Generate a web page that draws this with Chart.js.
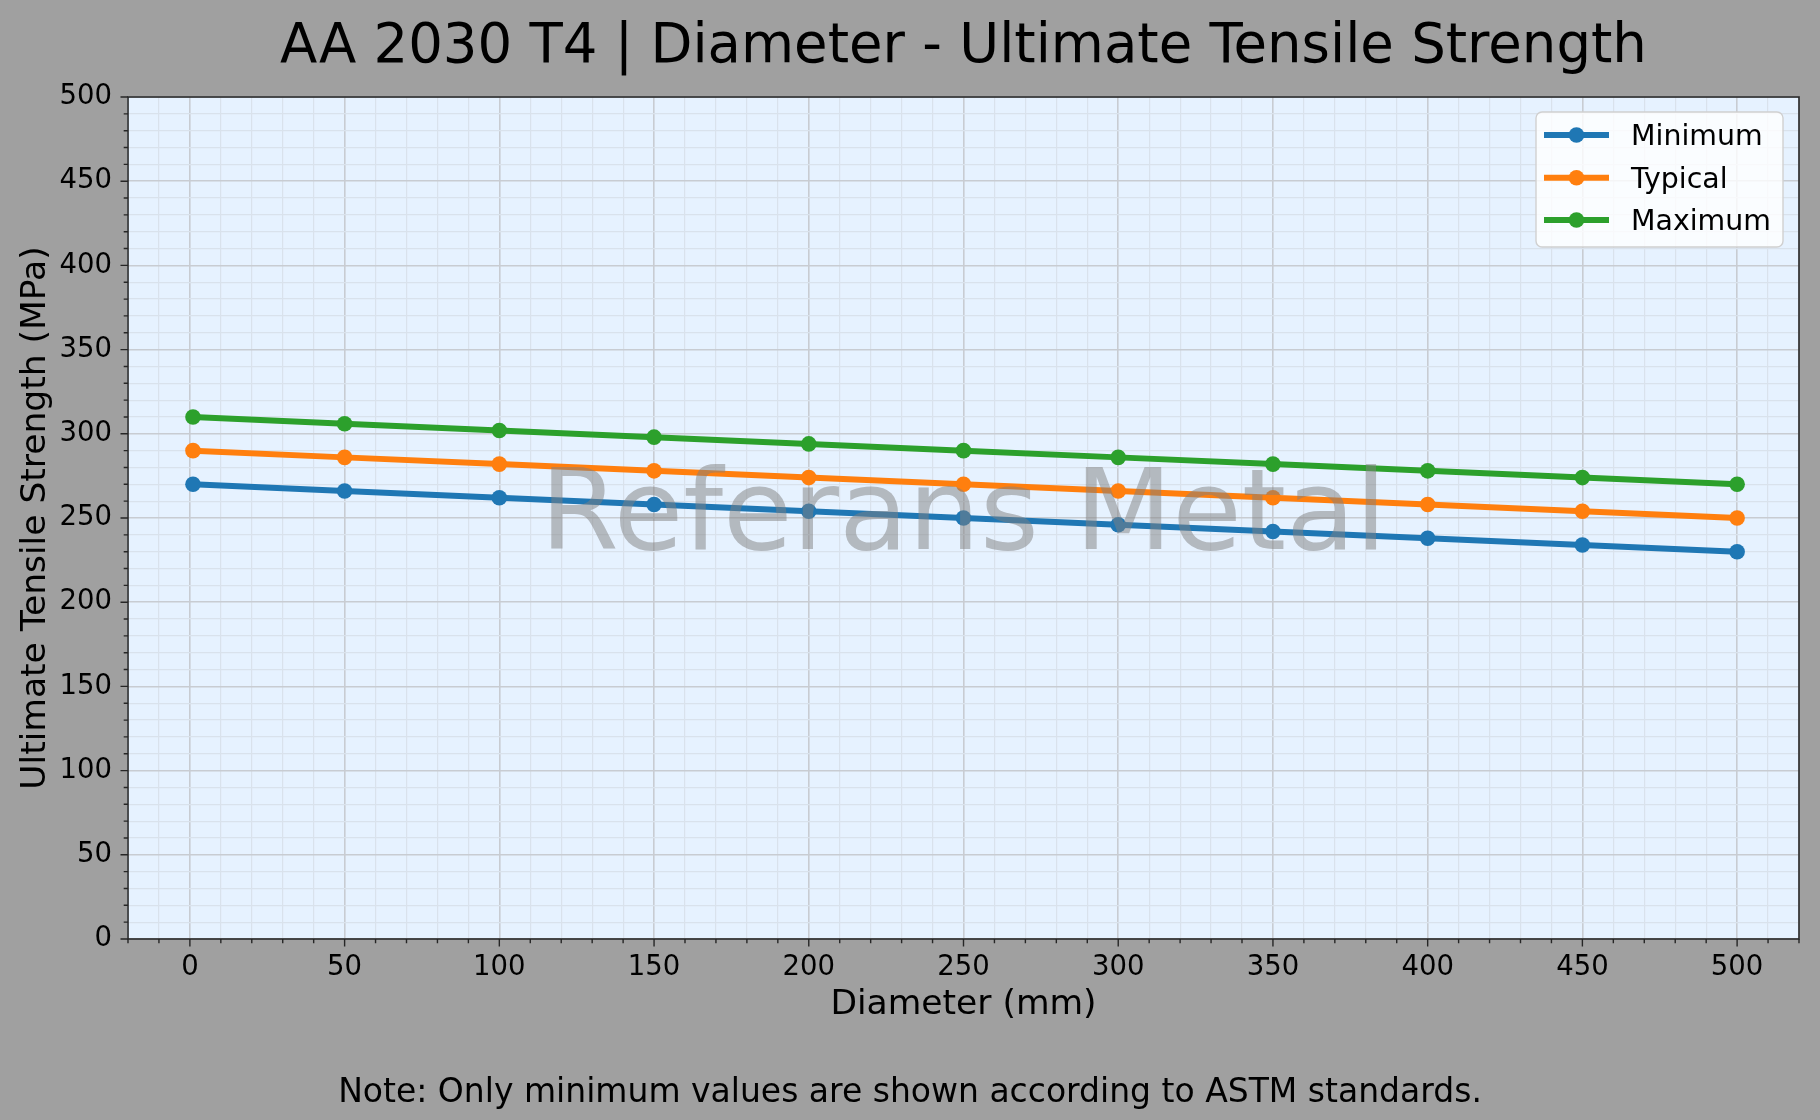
<!DOCTYPE html>
<html>
<head>
<meta charset="utf-8">
<script src="https://cdn.jsdelivr.net/npm/chart.js@4.4.1/dist/chart.umd.min.js"></script>
<style>
  html, body { margin: 0; padding: 0; background: #a0a0a0; }
  #wrap { width: 1820px; height: 1120px; }
</style>
</head>
<body>
<div id="wrap"><canvas id="tensileChart" width="1820" height="1120"></canvas></div>
<script>
// AA 2030 T4 - diameter vs ultimate tensile strength

var diameters = [1, 50, 100, 150, 200, 250, 300, 350, 400, 450, 500];
var minimumUts = [270, 266, 262, 258, 254, 250, 246, 242, 238, 234, 230];
var typicalUts = [290, 286, 282, 278, 274, 270, 266, 262, 258, 254, 250];
var maximumUts = [310, 306, 302, 298, 294, 290, 286, 282, 278, 274, 270];
var seriesNames = ["Minimum", "Typical", "Maximum"];
var seriesColors = ["#1f77b4", "#ff7f0e", "#2ca02c"];

var FONT = "'DejaVu Sans', 'Liberation Sans', sans-serif";

function toPoints(ys) {
  return diameters.map(function (d, i) { return { x: d, y: ys[i] }; });
}

function isMajor(v) { return Math.abs(v % 50) < 1e-6; }

function gridColor(ctx) {
  return isMajor(ctx.tick.value) ? "#c8ccd2" : "#d9e2ec";
}
function gridWidth(ctx) {
  return isMajor(ctx.tick.value) ? 1.6 : 1.2;
}

// plot background, spines, tick marks, texts, legend
var decorations = {
  id: "decorations",
  beforeDraw: function (chart) {
    var c = chart.ctx, a = chart.chartArea;
    c.save();
    c.fillStyle = "#a0a0a0";
    c.fillRect(0, 0, chart.width, chart.height);
    c.fillStyle = "#e6f2ff";
    c.fillRect(a.left, a.top, a.right - a.left, a.bottom - a.top);
    c.restore();
  },
  afterDatasetsDraw: function (chart) {
    var c = chart.ctx, a = chart.chartArea;
    var cx = (a.left + a.right) / 2;
    // watermark
    c.save();
    c.font = "113px " + FONT;
    c.fillStyle = "rgba(128,128,128,0.5)";
    c.textAlign = "center";
    c.textBaseline = "alphabetic";
    c.fillText("Referans Metal", cx, 549);
    c.restore();
  },
  afterDraw: function (chart) {
    var c = chart.ctx, a = chart.chartArea;
    var cx = (a.left + a.right) / 2, cy = (a.top + a.bottom) / 2;
    var xs = chart.scales.x, ys = chart.scales.y;
    c.save();
    // spines
    c.strokeStyle = "#262626";
    c.lineWidth = 1.6;
    c.strokeRect(a.left, a.top, a.right - a.left, a.bottom - a.top);
    // ticks
    c.lineWidth = 1.4;
    c.beginPath();
    xs.ticks.forEach(function (t) {
      var px = xs.getPixelForValue(t.value);
      var len = isMajor(t.value) ? 7.5 : 4.3;
      c.moveTo(px, a.bottom);
      c.lineTo(px, a.bottom + len);
    });
    ys.ticks.forEach(function (t) {
      var py = ys.getPixelForValue(t.value);
      var len = isMajor(t.value) ? 7.5 : 4.3;
      c.moveTo(a.left, py);
      c.lineTo(a.left - len, py);
    });
    c.stroke();

    // titles
    c.fillStyle = "#000";
    c.textAlign = "center";
    c.font = "54.5px " + FONT;
    c.textBaseline = "alphabetic";
    c.fillText("AA 2030 T4 | Diameter - Ultimate Tensile Strength", cx, 62);
    c.font = "34.5px " + FONT;
    c.textBaseline = "middle";
    c.fillText("Diameter (mm)", cx, 1005);
    c.save();
    c.translate(36, cy);
    c.rotate(-Math.PI / 2);
    c.fillText("Ultimate Tensile Strength (MPa)", 0, 0);
    c.restore();
    c.font = "33px " + FONT;
    c.fillText("Note: Only minimum values are shown according to ASTM standards.", 910, 1093);

    // legend
    var bx = 1536, by = 112, bw = 247, bh = 135, r = 6;
    c.beginPath();
    c.moveTo(bx + r, by);
    c.arcTo(bx + bw, by, bx + bw, by + bh, r);
    c.arcTo(bx + bw, by + bh, bx, by + bh, r);
    c.arcTo(bx, by + bh, bx, by, r);
    c.arcTo(bx, by, bx + bw, by, r);
    c.closePath();
    c.fillStyle = "rgba(255,255,255,0.8)";
    c.fill();
    c.strokeStyle = "#d0d0d0";
    c.lineWidth = 1.4;
    c.stroke();
    var rows = [135, 177.7, 220];
    chart.data.datasets.forEach(function (ds, i) {
      var y = rows[i];
      c.strokeStyle = ds.borderColor;
      c.lineWidth = 6;
      c.beginPath();
      c.moveTo(1544, y);
      c.lineTo(1609, y);
      c.stroke();
      c.fillStyle = ds.borderColor;
      c.beginPath();
      c.arc(1576.5, y, 7.8, 0, Math.PI * 2);
      c.fill();
      c.fillStyle = "#000";
      c.font = "28.4px " + FONT;
      c.textAlign = "left";
      c.textBaseline = "middle";
      c.fillText(ds.label, 1631, y + 3);
    });
    c.restore();
  }
};

var seriesData = [minimumUts, typicalUts, maximumUts];

new Chart(document.getElementById("tensileChart"), {
  type: "line",
  data: {
    datasets: seriesData.map(function (ys, i) {
      return {
        label: seriesNames[i],
        data: toPoints(ys),
        borderColor: seriesColors[i],
        backgroundColor: seriesColors[i],
        borderWidth: 6,
        pointRadius: 7.8,
        pointBorderWidth: 0,
        pointHoverRadius: 7.8,
        tension: 0,
        fill: false
      };
    })
  },
  options: {
    responsive: false,
    animation: false,
    devicePixelRatio: 1,
    layout: { padding: { top: 97, right: 21, bottom: 0, left: 0 } },
    plugins: {
      legend: { display: false },
      title: { display: false },
      tooltip: { enabled: false }
    },
    scales: {
      x: {
        type: "linear",
        min: -20,
        max: 520,
        afterFit: function (s) { s.height = 181; },
        border: { display: false },
        grid: { color: gridColor, lineWidth: gridWidth, drawTicks: false },
        ticks: {
          stepSize: 10,
          maxTicksLimit: 200,
          autoSkip: false,
          maxRotation: 0,
          padding: 12,
          color: "#000",
          font: { family: FONT, size: 27.5 },
          callback: function (v) { return isMajor(v) ? String(v) : ""; }
        }
      },
      y: {
        min: 0,
        max: 500,
        afterFit: function (s) { s.width = 128; },
        border: { display: false },
        grid: { color: gridColor, lineWidth: gridWidth, drawTicks: false },
        ticks: {
          stepSize: 10,
          maxTicksLimit: 200,
          autoSkip: false,
          padding: 16,
          color: "#000",
          font: { family: FONT, size: 27.5 },
          callback: function (v) { return isMajor(v) ? String(v) : ""; }
        }
      }
    }
  },
  plugins: [decorations]
});
</script>
</body>
</html>
